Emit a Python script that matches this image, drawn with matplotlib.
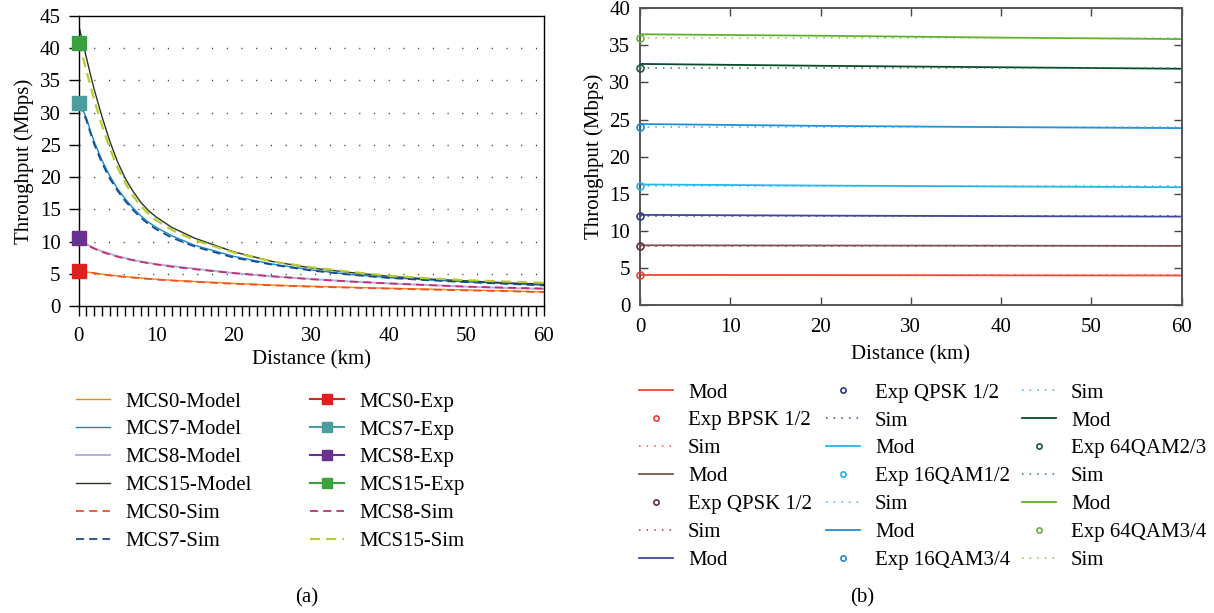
import matplotlib
matplotlib.use("Agg")
import matplotlib.pyplot as plt

plt.rcParams['font.family'] = ['Liberation Serif', 'DejaVu Serif']
plt.rcParams['font.size'] = 15

W, H = 1214, 613

# ---- panel (a) data ----
dist_a = [0, 0.5, 1, 1.5, 2, 3, 4, 5, 6, 7, 8, 9, 10, 12, 15, 20, 25, 30, 35, 40, 45, 50, 55, 60]
mcs0_model = [5.5, 5.4, 5.3, 5.2, 5.1, 4.95, 4.8, 4.67, 4.55, 4.45, 4.35, 4.25, 4.15, 4.0, 3.8,
              3.5, 3.25, 3.05, 2.9, 2.75, 2.62, 2.5, 2.35, 2.2]
mcs7_model = [31.5, 30.5, 29.2, 27.2, 25.5, 22.6, 20.2, 18.2, 16.6, 15.2, 14.0, 13.0, 12.2, 10.9, 9.4,
              7.7, 6.5, 5.6, 4.9, 4.4, 4.05, 3.75, 3.5, 3.25]
mcs8_model = [10.5, 10.0, 9.6, 9.3, 9.0, 8.5, 8.1, 7.75, 7.45, 7.15, 6.9, 6.7, 6.5, 6.2, 5.8,
              5.1, 4.6, 4.2, 3.8, 3.5, 3.25, 3.0, 2.8, 2.65]
mcs15_model = [43.6, 41.0, 38.5, 36.0, 33.6, 29.4, 25.6, 22.4, 19.8, 17.8, 16.1, 14.8, 13.8, 12.2, 10.5,
               8.4, 6.9, 5.9, 5.2, 4.6, 4.2, 3.9, 3.6, 3.4]
mcs0_sim = [5.5, 5.4, 5.3, 5.2, 5.1, 4.9, 4.75, 4.62, 4.5, 4.4, 4.3, 4.2, 4.1, 3.95, 3.75,
            3.45, 3.2, 3.0, 2.85, 2.7, 2.55, 2.42, 2.3, 2.15]
mcs7_sim = [31.3, 30.2, 28.8, 26.9, 25.1, 22.2, 19.8, 17.9, 16.3, 14.9, 13.7, 12.7, 11.9, 10.6, 9.2,
            7.5, 6.4, 5.5, 4.85, 4.35, 4.0, 3.7, 3.45, 3.2]
mcs8_sim = [10.3, 9.9, 9.5, 9.2, 8.9, 8.4, 8.0, 7.65, 7.35, 7.1, 6.85, 6.65, 6.45, 6.1, 5.7,
            5.1, 4.6, 4.15, 3.8, 3.5, 3.25, 3.0, 2.85, 2.7]
mcs15_sim = [41.0, 38.8, 36.5, 34.2, 32.0, 28.0, 24.5, 21.5, 19.1, 17.1, 15.5, 14.3, 13.3, 11.8, 10.2,
             8.3, 6.9, 6.0, 5.3, 4.7, 4.3, 4.0, 3.8, 3.6]
exp_dist_a = [0]
mcs0_exp = [5.5]
mcs7_exp = [31.5]
mcs8_exp = [10.5]
mcs15_exp = [40.8]

# ---- panel (b) data ----
dist_b = [0, 20, 40, 60]
sim_dist_b = [0, 60]
exp_dist_b = [0]
schemes = ["BPSK 1/2", "QPSK 1/2", "QPSK 1/2", "16QAM1/2", "16QAM3/4", "64QAM2/3", "64QAM3/4"]
mod_b = [
    [4.05, 4.03, 4.0, 3.98],
    [8.05, 8.02, 8.0, 7.97],
    [12.15, 12.05, 11.98, 11.92],
    [16.25, 16.1, 15.98, 15.88],
    [24.4, 24.15, 23.98, 23.85],
    [32.5, 32.25, 32.05, 31.85],
    [36.5, 36.3, 36.05, 35.85],
]
exp_b = [4, 8, 12, 16, 24, 32, 36]
sim_b = [4, 8, 12, 16, 24, 32, 36]
mod_cols = ["#f04a30", "#7a5555", "#3a4aa0", "#22b8e8", "#2090d8", "#0a4a2a", "#60b030"]
exp_cols = ["#e84030", "#603030", "#2a3a90", "#20b0e0", "#1a8ad0", "#1a5a3a", "#6ab040"]
sim_cols = ["#f05040", "#8a4545", "#3a3aa0", "#30b8e8", "#40a8e0", "#2a7a5a", "#80c050"]

fig = plt.figure(figsize=(W / 100, H / 100), dpi=100)


def box(l, t, r, b):
    return [l / W, 1 - b / H, (r - l) / W, (b - t) / H]


# ================= panel (a) =================
ax = fig.add_axes(box(78.7, 16, 544, 306))
dash = (0, (4.5, 2.8))
ax.plot(dist_a, mcs0_model, color="#f38a00", lw=1.0, label="MCS0-Model")
ax.plot(dist_a, mcs7_model, color="#0a88d8", lw=1.0, label="MCS7-Model")
ax.plot(dist_a, mcs8_model, color="#b0b0dc", lw=1.4, label="MCS8-Model")
ax.plot(dist_a, mcs15_model, color="#2a3520", lw=1.0, label="MCS15-Model")
ax.plot(dist_a, mcs0_sim, color="#f05030", lw=1.3, ls=dash, label="MCS0-Sim")
ax.plot(dist_a, mcs7_sim, color="#1a4a88", lw=1.3, ls=dash, label="MCS7-Sim")
ax.plot(dist_a, mcs8_sim, color="#c03070", lw=1.3, ls=dash, label="MCS8-Sim")
ax.plot(dist_a, mcs15_sim, color="#b8cc30", lw=1.6, ls=dash, label="MCS15-Sim")
ax.plot(exp_dist_a, mcs0_exp, color="#e02020", marker="s", ms=9.5, label="MCS0-Exp", clip_on=False, zorder=5)
ax.plot(exp_dist_a, mcs7_exp, color="#4a9e9e", marker="s", ms=9.5, label="MCS7-Exp", clip_on=False, zorder=5)
ax.plot(exp_dist_a, mcs8_exp, color="#6a3090", marker="s", ms=9.5, label="MCS8-Exp", clip_on=False, zorder=5)
ax.plot(exp_dist_a, mcs15_exp, color="#3aa040", marker="s", ms=9.5, label="MCS15-Exp", clip_on=False, zorder=5)

ax.set_xlim(0, 60)
ax.set_ylim(0, 45)
ax.set_xticks(range(0, 61, 10))
ax.set_xticks(range(0, 61, 1), minor=True)
ax.set_yticks(range(0, 46, 5))
ax.tick_params(axis="both", direction="out", length=7, width=1, labelsize=15, pad=6)
ax.tick_params(axis="x", pad=8)
ax.tick_params(axis="x", which="minor", direction="out", length=7, width=1)
for y in range(5, 45, 5):
    ax.axhline(y, color="#333333", lw=1.0, ls=(0, (0.8, 9.8)), zorder=0)
for s in ax.spines.values():
    s.set_linewidth(1.0)
ax.set_xlabel("Distance (km)", fontsize=15, labelpad=3)
ax.set_ylabel("Throughput (Mbps)", fontsize=15, labelpad=4)

h = {l.get_label(): l for l in ax.get_lines() if not l.get_label().startswith("_")}
col1 = ["MCS0-Model", "MCS7-Model", "MCS8-Model", "MCS15-Model", "MCS0-Sim", "MCS7-Sim"]
col2 = ["MCS0-Exp", "MCS7-Exp", "MCS8-Exp", "MCS15-Exp", "MCS8-Sim", "MCS15-Sim"]
leg_kw = dict(loc="upper left", frameon=False, fontsize=15, handlelength=1.65,
              handletextpad=0.7, labelspacing=0.4, borderpad=0, borderaxespad=0,
              markerscale=0.8)
fig.legend([h[k] for k in col1], col1, bbox_to_anchor=(76 / W, 1 - 392 / H), **leg_kw)
fig.legend([h[k] for k in col2], col2, bbox_to_anchor=(310 / W, 1 - 392 / H), **leg_kw)
fig.text(307 / W, 1 - 598 / H, "(a)", ha="center", va="center", fontsize=15)

# ================= panel (b) =================
bx = fig.add_axes(box(640, 8.3, 1181.7, 305))
handles_b = []
labels_b = []
for i in range(len(schemes)):
    m, = bx.plot(dist_b, mod_b[i], color=mod_cols[i], lw=1.3)
    e, = bx.plot(exp_dist_b, [exp_b[i]], ls="none", marker="o", ms=5, mfc="none",
                 mec=exp_cols[i], mew=1.2, clip_on=False, zorder=5)
    s, = bx.plot(sim_dist_b, [sim_b[i], sim_b[i]], color=sim_cols[i], lw=1.1, ls=(0, (1, 4)))
    handles_b += [m, e, s]
    labels_b += ["Mod", "Exp " + schemes[i], "Sim"]

bx.set_xlim(0, 60)
bx.set_ylim(0, 40)
bx.set_xticks(range(0, 61, 10))
bx.set_yticks(range(0, 41, 5))
bx.tick_params(axis="both", direction="in", length=6, width=1, labelsize=15,
               top=True, right=True, color="#444444", pad=7)
bx.tick_params(axis="x", pad=9)
for s in bx.spines.values():
    s.set_linewidth(1.4)
    s.set_color("#555555")
bx.set_xlabel("Distance (km)", fontsize=15, labelpad=6)
bx.set_ylabel("Throughput (Mbps)", fontsize=15, labelpad=4)

leg_kw_b = dict(loc="upper left", frameon=False, fontsize=15, handlelength=1.65,
                handletextpad=0.7, labelspacing=0.4, borderpad=0, borderaxespad=0,
                markerscale=0.75)
xs_b = [639, 826, 1022]
for c in range(3):
    fig.legend(handles_b[c * 7:(c + 1) * 7], labels_b[c * 7:(c + 1) * 7],
               bbox_to_anchor=(xs_b[c] / W, 1 - 383 / H), **leg_kw_b)
fig.text(862 / W, 1 - 598 / H, "(b)", ha="center", va="center", fontsize=15)

fig.savefig("out.png", dpi=100)
